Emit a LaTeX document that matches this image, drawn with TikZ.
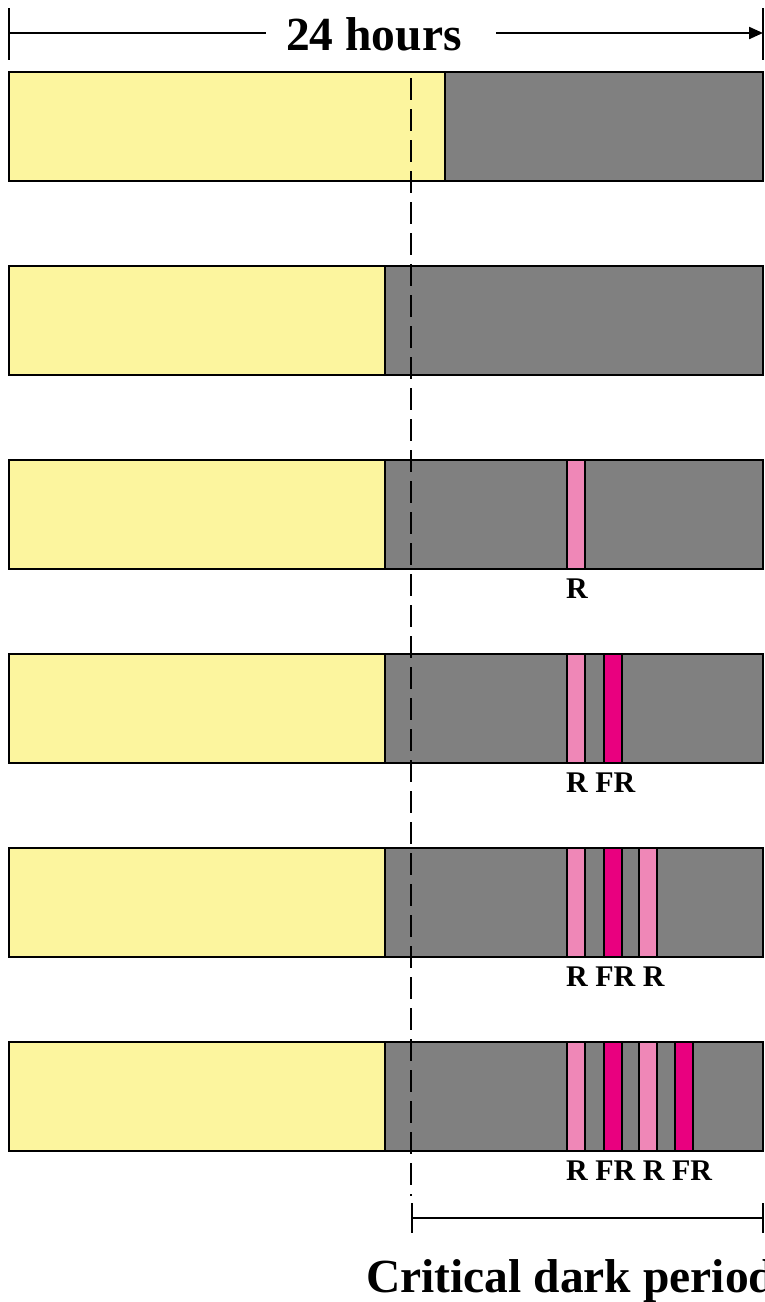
\documentclass[tikz,border=0pt]{standalone}
\usepackage{fontspec}
\setmainfont{Liberation Serif}
\usetikzlibrary{arrows.meta}
\definecolor{lightyel}{HTML}{FCF59E}
\definecolor{darkgr}{HTML}{808080}
\definecolor{rpink}{HTML}{EF87B7}
\definecolor{frmag}{HTML}{E9007F}
\begin{document}
\begin{tikzpicture}[x=1pt,y=-1pt,
  barline/.style={draw=black,line width=2.4pt},
  stripe/.style={draw=black,line width=1.7pt},
  rl/.style={stripe,fill=rpink},
  frl/.style={stripe,fill=frmag},
  lab/.style={font=\fontsize{30}{30}\selectfont\bfseries,anchor=base west,inner sep=0pt},
  big/.style={font=\fontsize{47.5}{48}\selectfont\bfseries,anchor=base west,inner sep=0pt},
  dim/.style={line width=2.2pt,black}]
\useasboundingbox (0,0) rectangle (765,1302);
\clip (0,0) rectangle (765,1302);
% bars
\foreach \t/\s [count=\i] in {72/445,266/385,460/385,654/385,848/385,1042/385}{
  \fill[lightyel] (9,\t) rectangle (\s,\t+109);
  \fill[darkgr] (\s,\t) rectangle (763,\t+109);
  \draw[barline] (9,\t) rectangle (763,\t+109);
  \draw[barline] (\s,\t) -- (\s,\t+109);
}
% stripes
\foreach \t in {460,654,848,1042} \draw[rl] (567,\t) rectangle (585,\t+109);
\foreach \t in {654,848,1042} \draw[frl] (604,\t) rectangle (622,\t+109);
\foreach \t in {848,1042} \draw[rl] (639,\t) rectangle (657,\t+109);
\draw[frl] (675,1042) rectangle (693,1151);
% labels
\node[lab] (l3) at (566,598) {R};
\node[lab] (l4) at (566,792) {R FR};
\node[lab] (l5) at (566,986) {R FR R};
\node[lab] (l6) at (566,1180) {R FR R FR};
% top dimension
\node[big] (hours) at (286,50) {24 hours};
\coordinate (tl) at (9,33);
\coordinate (tr) at (763,33);
\coordinate (hl) at (266,33);
\coordinate (hr) at (496,33);
\draw[dim] (9,8) -- (9,60);
\draw[dim] (763,8) -- (763,60);
\draw[dim] (tl) -- (hl);
\draw[dim,-{Triangle[length=14pt,width=12pt]}] (hr) -- (tr);
% dashed critical line
\coordinate (dtop) at (411,78);
\coordinate (dbot) at (411,1196);
\draw[line width=2.6pt,dash pattern=on 22pt off 9pt] (dtop) -- (dbot);
% bottom bracket
\coordinate (bl) at (412,1218);
\coordinate (br) at (763,1218);
\draw[dim] (bl) -- (br);
\draw[dim] (412,1203) -- (412,1233);
\draw[dim] (763,1203) -- (763,1233);
\node[big] (crit) at (366,1292) {Critical dark period};
\end{tikzpicture}
\end{document}
